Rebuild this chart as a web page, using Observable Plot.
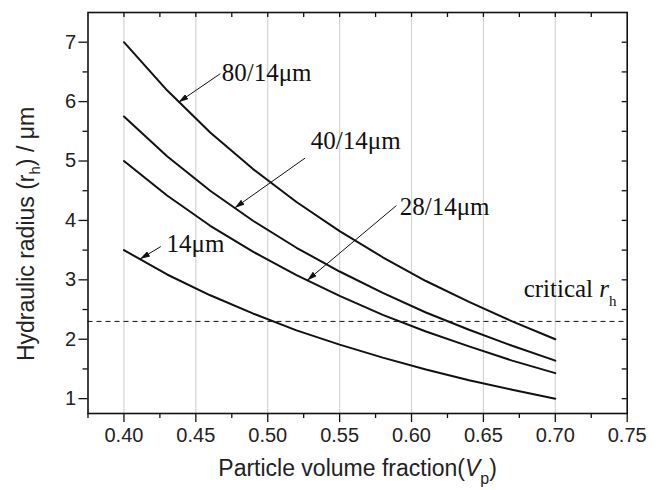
<!DOCTYPE html>
<html><head><meta charset="utf-8">
<script src="https://cdn.jsdelivr.net/npm/d3@7"></script>
<script src="https://cdn.jsdelivr.net/npm/@observablehq/plot@0.6"></script>
<style>body{margin:0;background:#fff}</style>
</head><body><div id="chart"></div>
<script>
// Particle volume fraction sample points
const vp = [0.40, 0.43, 0.46, 0.49, 0.52, 0.55, 0.58, 0.61, 0.64, 0.67, 0.70];
// Hydraulic radius (µm) per powder blend
const r80_14 = [7.00, 6.19, 5.48, 4.86, 4.31, 3.82, 3.38, 2.98, 2.63, 2.30, 2.00];
const r40_14 = [5.75, 5.08, 4.50, 3.99, 3.54, 3.14, 2.78, 2.45, 2.16, 1.89, 1.64];
const r28_14 = [5.00, 4.42, 3.91, 3.47, 3.08, 2.73, 2.41, 2.13, 1.88, 1.64, 1.43];
const r14    = [3.50, 3.09, 2.74, 2.43, 2.15, 1.91, 1.69, 1.49, 1.31, 1.15, 1.00];
const seriesNames = ["80/14μm", "40/14μm", "28/14μm", "14μm"];
const criticalRh = 2.3;

// tick values
const xMajor = [0.40, 0.45, 0.50, 0.55, 0.60, 0.65, 0.70, 0.75];
const xMinor = [0.375, 0.425, 0.475, 0.525, 0.575, 0.625, 0.675, 0.725];
const xGrid  = [0.40, 0.45, 0.50, 0.55, 0.60, 0.65, 0.70];
const yMajor = [1, 2, 3, 4, 5, 6, 7];
const yMinor = [1.5, 2.5, 3.5, 4.5, 5.5, 6.5];
const xTopTicks = [0.40, 0.425, 0.45, 0.475, 0.50, 0.525, 0.55, 0.575, 0.60, 0.625, 0.65, 0.675, 0.70, 0.725];
const yRightTicks = [1, 1.5, 2, 2.5, 3, 3.5, 4, 4.5, 5, 5.5, 6, 6.5, 7];

// annotation arrows (tail -> head, data units) and label anchors
const arrowTailX = [0.467, 0.526, 0.5895, 0.4256];
const arrowTailY = [6.47, 5.05, 4.25, 3.56];
const arrowHeadX = [0.438, 0.477, 0.5274, 0.4112];
const arrowHeadY = [5.99, 4.21, 2.99, 3.35];
const labelX = [0.4680, 0.5300, 0.5918, 0.4296];
const labelY = [6.355, 5.205, 4.094, 3.465];
const critLabel = {x: 0.6780, y: 2.707, text: "critical rh"};

const xTitle = "Particle volume fraction(Vp)";
const yTitle = "Hydraulic radius (rh) / μm";

const seriesValues = [r80_14, r40_14, r28_14, r14];
const rows = seriesNames.flatMap((s, i) => vp.map((v, j) => ({s, v, r: seriesValues[i][j]})));
const arrows = arrowTailX.map((_, i) => ({x1: arrowTailX[i], y1: arrowTailY[i], x2: arrowHeadX[i], y2: arrowHeadY[i]}));
const labels = seriesNames.map((t, i) => ({x: labelX[i], y: labelY[i], text: t}));

const W = 661, H = 490, mL = 87.5, mR = 34.3, mT = 12, mB = 77;
const pw = W - mL - mR, ph = H - mT - mB;
const ink = "#111";

const plot = Plot.plot({
  width: W, height: H,
  marginLeft: mL, marginRight: mR, marginTop: mT, marginBottom: mB,
  style: {fontFamily: "'Liberation Sans', Arial, sans-serif", fontSize: "20px", background: "#fff", color: "#222"},
  x: {domain: [0.375, 0.75], label: null},
  y: {domain: [0.75, 7.5], label: null},
  marks: [
    Plot.gridX(xGrid, {stroke: "#d4d4d4", strokeOpacity: 1, strokeWidth: 1.2}),
    Plot.ruleY([criticalRh], {stroke: ink, strokeWidth: 1, strokeDasharray: "5,4"}),
    Plot.line(rows, {x: "v", y: "r", z: "s", stroke: ink, strokeWidth: 2}),
    Plot.link(arrows, {x1: "x1", y1: "y1", x2: "x2", y2: "y2", stroke: ink, strokeWidth: 1}),
    Plot.text(labels, {x: "x", y: "y", text: "text", textAnchor: "start", lineAnchor: "bottom", fontFamily: "'Liberation Serif', 'Times New Roman', serif", fontSize: 25, fill: ink}),
    Plot.text([critLabel], {x: "x", y: "y", text: "text", textAnchor: "start", lineAnchor: "bottom", fontFamily: "'Liberation Serif', 'Times New Roman', serif", fontSize: 25, fill: ink}),
    Plot.axisX(xMajor, {tickSize: 9, tickPadding: 5, tickFormat: d3.format(".2f"), label: null, stroke: ink, strokeWidth: 1.3}),
    Plot.axisX(xMinor, {tickSize: 5, tickFormat: () => "", label: null, stroke: ink, strokeWidth: 1.3}),
    Plot.axisY(yMajor, {tickSize: 9, tickPadding: 3, tickFormat: d3.format("d"), label: null, stroke: ink, strokeWidth: 1.3}),
    Plot.axisY(yMinor, {tickSize: 5, tickFormat: () => "", label: null, stroke: ink, strokeWidth: 1.3}),
    Plot.ruleX(xTopTicks, {insetBottom: ph - 5, stroke: ink, strokeWidth: 1.3}),
    Plot.ruleY(yRightTicks, {insetLeft: pw - 5, stroke: ink, strokeWidth: 1.3}),
    Plot.frame({stroke: ink, strokeWidth: 1.6}),
    Plot.text([xTitle], {frameAnchor: "bottom", dy: 62, lineAnchor: "bottom", fontSize: 23, fill: "#222"}),
    Plot.text([yTitle], {frameAnchor: "left", rotate: -90, dx: -54, dy: 21, textAnchor: "middle", lineAnchor: "bottom", fontSize: 23, fill: "#222"})
  ]
});

const svg = d3.select(plot);
// filled arrowheads
const defs = svg.insert("defs", ":first-child");
defs.append("marker").attr("id", "ahead").attr("viewBox", "0 0 10 6").attr("refX", 10).attr("refY", 3)
  .attr("markerWidth", 10).attr("markerHeight", 6).attr("markerUnits", "userSpaceOnUse").attr("orient", "auto")
  .append("path").attr("d", "M0,0L10,3L0,6Z").attr("fill", ink);
svg.selectAll('g[aria-label="link"] path').attr("marker-end", "url(#ahead)");

// rich text (italics / subscripts)
function rich(plain, parts) {
  svg.selectAll("text").filter(function() { return this.textContent === plain; }).each(function() {
    const t = d3.select(this);
    t.text(null);
    parts.forEach(p => {
      const s = t.append("tspan").text(p.t);
      if (p.italic) s.attr("font-style", "italic");
      if (p.size) s.attr("font-size", p.size);
      if (p.dy) s.attr("dy", p.dy);
    });
  });
}
rich(xTitle, [{t: "Particle volume fraction("}, {t: "V", italic: true}, {t: "p", size: 16, dy: 8}, {t: ")", dy: -8}]);
rich(yTitle, [{t: "Hydraulic radius (r"}, {t: "h", size: 15, dy: 6}, {t: ") / μm", dy: -6}]);
rich(critLabel.text, [{t: "critical "}, {t: "r", italic: true}, {t: "h", size: 15, dy: 9}]);

document.getElementById("chart").appendChild(plot);
</script>
</body></html>
